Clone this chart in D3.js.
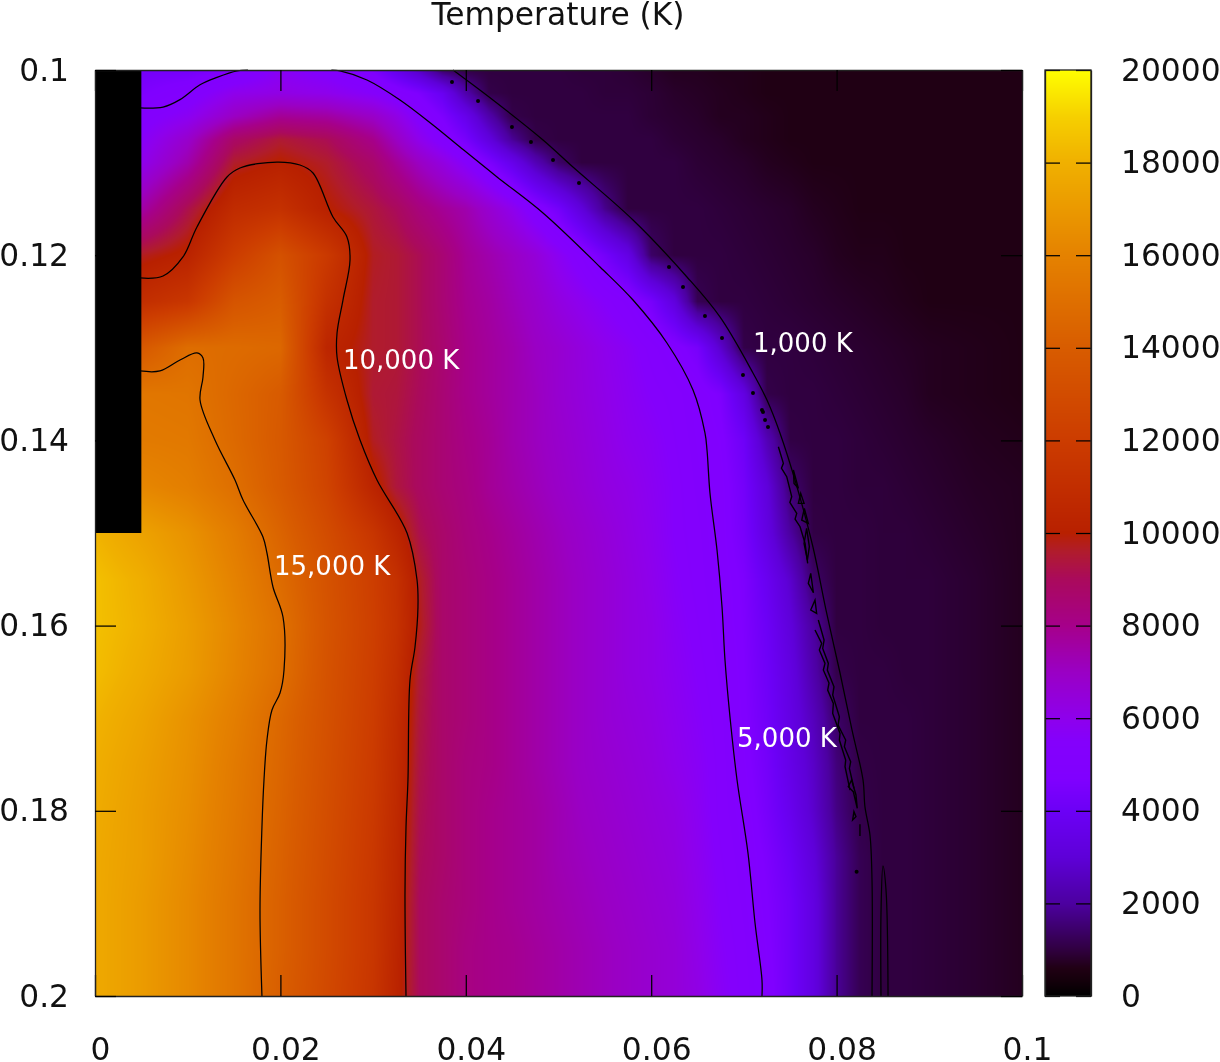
<!DOCTYPE html>
<html>
<head>
<meta charset="utf-8">
<script src="https://cdnjs.cloudflare.com/ajax/libs/d3/7.8.5/d3.min.js"></script>
<style>
  html, body { margin: 0; padding: 0; background: #fff; }
  #vis { position: relative; width: 1220px; height: 1062px; overflow: hidden; filter: blur(0.65px); }
  #vis canvas, #vis svg { position: absolute; left: 0; top: 0; }
  text { font-family: "DejaVu Sans", sans-serif; }
</style>
</head>
<body>
<div id="vis"></div>
<script>
// grid positions of the temperature table
const gridX = [0, .005, .01, .015, .02, .025, .03, .0325, .035, .0375, .04, .0425, .045, .0475, .05, .0525, .055,
  .0575, .06, .0625, .065, .0675, .07, .0725, .075, .0775, .08, .0825, .085, .0875, .09, .095, .1];
const gridY = [.1, .1025, .105, .1075, .11, .115, .12, .125, .13, .135, .14, .145, .15, .155, .16, .165, .17,
  .175, .18, .185, .19, .195, .2];

// temperature in hundreds of K, one row per gridY
const tempRows = [
  [43,43,43,47,57,53,46, 36,26,14,10.5, 10,10,10,10, 9.5,9.5,9,8, 7,7,6.5,6.5,6, 6,6,6,6,6, 6,6,6,6],
  [46,46,51,60,62,60,55, 51,46,38,22, 11,10,10,10, 10,9.5,9.5,9, 8,7.5,7,6.5,6, 6,6,6,6,6, 6,6,6,6],
  [52,52,58,70,78,76,69, 62,53,46,36, 22,11,10,10, 10,10,10,9, 8.5,8,7,7,6.5, 6,6,6,6,6, 6,6,6,6],
  [56,56,68,88,95,91,80, 70,60,52,44, 32,19,11,10, 10,10,10,10, 9,8.5,8,7,6.5, 6,6,6,6,6, 6,6,6,6],
  [60,60,74,96,100.5,96,87, 78,70,63,55, 46,36,24,14, 10,10,10,10, 10,9,8.5,8,7, 6.5,6,6,6,6, 6,6,6,6],
  [75,75,92,108,112,100.5,94, 90,83,78,74, 67,60,51,43, 31,18,10,10, 10,10,9.5,9,8.5, 8,7,6.5,6,6, 6,6,6,6],
  [97,97,102,120,133,118,97, 95,91,85,78, 74,70,65,58, 51.5,43,34,14, 10,10,10,9.5,9, 8.5,8,7,6.5,6.5, 6,6,6,6],
  [110,110,116,135,140,112,96, 95,91,85,79, 76,72,68,63, 59,55,51,44, 32,12,10,10,9.5, 9,8.5,8,7.5,7, 6.5,6,6,6],
  [138,138,149,148,146,104,96, 95,91,86,80, 77,74,70,67, 63.5,60,57,53, 49,44,28,11,10, 10,9.5,9,8.5,8, 7.5,7,6.5,6],
  [154,154,153,146,139,113,95, 94,90,85,80, 77,74,71,67, 64,61,58,55, 53,50,46,33,11, 10,10,9.5,9,8.5, 8,7,6.5,6],
  [156,156,155,147,138,123,97, 93,89,85,81, 78,74,71,68, 65,62,59,57, 54,50.8,48,41,24, 10.5,10,10,9.5,9, 8.5,8,7,6.5],
  [162,162,158,150,139,125,103, 94,89,85,82, 78,75,72,69, 66,63,61,58, 55,51.5,49,43,31, 15,10,10,9.5,9.5, 9,8.5,7.5,7],
  [181,174,167,157,144,130,115, 104,92,87,83, 80,77,74,71, 68,65,62,59, 55,52.5,49.2,44,33, 20,10.5,10,10,9.5, 9.5,9,8,7],
  [185,179,170,160,148,134,121, 112,97,87,84, 81,78,75,72, 69,66,63,60, 56,53,49.7,46,38, 28,14,10,10,9.5, 9.5,9.5,8.5,7],
  [185,180,172,162,151,135,122, 113,98,87,84, 81,78,75,72, 69,66,63,61, 57,54,50.2,46.5,40, 31,20,10,10,9.5, 9.5,9.5,8.5,7],
  [184,178,171,161,150,134,121, 111,95,87,84, 81,78,75,72, 69,66,63,61, 58,55,51.5,47,41, 33,22,11,10,10, 9.5,9.5,8.5,7],
  [181,175,167,158,146,133,120, 109,94,87,84, 81,78,75,72, 69,66,64,62, 59,56,52.5,47.5,42, 34,25,14,10,10, 10,9.5,8.5,7],
  [179,173,166,156,145,132,119, 108,93,87,83, 81,78,75,72, 69,67,65,63, 60,57,53,48.5,43, 35,27,16,10.5,10, 10,9.5,8.5,7],
  [178,172,165,155,144,131,118, 107,92,87,83, 80,78,76,73, 70,68,66,64, 62,58,53,49.9,44, 37,28,17,11,10, 10,9.5,8.5,7],
  [177,172,164,154,143,130,117, 106,91,87,83, 80,78,76,73, 71,69,67,65, 63,59,54,50.7,46, 40,31,19,12,10, 10,9.5,8.5,7],
  [177,171,163,153,142,129,116, 105,90,86,83, 80,78,76,74, 72,70,68,66, 64,60,55,51.5,47, 42,33,19,12,10, 10,9.5,8.5,7],
  [177,171,163,153,142,129,116, 104,90,86,82, 80,79,77,75, 73,71,69,67, 65,61,56,52.5,48, 42,33,19,12,10, 10,9.5,8.5,7],
  [177,171,163,153,141,128,115, 103,90,86,82, 80,79,77,75, 73,71,69,67, 65,62,57,53,49, 42,33,19,12,10, 10,9.5,8.5,7]
];

// the solid block at the top left has no data
const blockX = .005;
const blockY = .15;

// palette of the colour bar
const paletteValues = [0, 300, 600, 1000, 1500, 2000, 3000, 4000, 4700, 5500, 6000, 7000, 8000, 9000, 9600, 10000, 12000, 14000, 16000, 18000, 19000, 20000];
const paletteColors = ['#000000', '#12000a', '#200014', '#300040', '#3e0070', '#4c00a0', '#5e00d8', '#6c00f6', '#8000ff', '#8400fc', '#8e00ec', '#9a00c4', '#a6008a', '#aa0a5c', '#b01c2c', '#b82000', '#cc3c00', '#d85c00', '#e58200', '#f0b000', '#f6d000', '#ffff00'];

const xTicks = [0, .02, .04, .06, .08, .1];
const yTicks = [.1, .12, .14, .16, .18, .2];
const barTicks = [0, 2000, 4000, 6000, 8000, 10000, 12000, 14000, 16000, 18000, 20000];

// contour lines, [x, y] in data units
const contour5000Corner = [[.00485,.1041],[.00734,.1040],[.00917,.1032],[.01133,.1016],[.01316,.1008],[.01532,.1001],[.0165,.1]];
const contour5000 = [[.0255,.1],[.02643,.1001],[.02934,.10108],[.0329,.10324],[.03646,.10594],[.03937,.10832],[.04337,.11155],[.04833,.11544],[.05448,.12127],[.05804,.12484],[.0617,.12948],[.06451,.13456],[.0658,.1392],[.06602,.14104],[.06634,.14568],[.0671,.15184],[.06764,.15799],[.06796,.16371],[.0685,.16987],[.06926,.17667],[.07044,.18456],[.0712,.19212],[.07195,.19827],[.07195,.2]];
const contour10000 = [[.00485,.12246],[.00734,.12225],[.00949,.12019],[.011,.11695],[.01424,.11155],[.01564,.11058],[.01963,.10994],[.02211,.11026],[.02352,.11112],[.02567,.11587],[.02718,.11803],[.02751,.12052],[.02675,.12484],[.02611,.1284],[.02611,.13099],[.02718,.13564],[.02859,.13996],[.03042,.14428],[.03366,.15],[.03474,.15508],[.03484,.15799],[.03452,.16231],[.03398,.16587],[.03376,.17667],[.03355,.18175],[.03344,.18888],[.03355,.2]];
const contour15000 = [[.00485,.1325],[.00701,.1325],[.00917,.13132],[.011,.13056],[.01165,.1311],[.01165,.13315],[.01133,.13564],[.01294,.13996],[.0151,.14428],[.01597,.14644],[.01812,.15043],[.01855,.15216],[.0192,.15583],[.02028,.15907],[.02039,.16479],[.01996,.16728],[.01909,.16911],[.01855,.17235],[.01823,.17667],[.01801,.18175],[.0178,.19071],[.01801,.2]];
const contour1000 = [[.03862,.1],[.04293,.10324],[.04833,.10756],[.05156,.11048],[.05804,.1162],[.06386,.12235],[.06742,.12667],[.07098,.13272],[.07249,.13564],[.07389,.1392],[.07573,.14503],[.07745,.15151],[.07886,.15832],[.08037,.16512],[.08166,.17127],[.08285,.17667],[.08306,.17958],[.0836,.18261],[.08382,.18747],[.08382,.2]];
const contourSpike = [[.08479,.2],[.08479,.19104],[.085,.18596],[.08533,.18855],[.08555,.2]];
const ragged1 = [[.07372,.14068],[.07426,.14248],[.07405,.14300],[.07462,.14392],[.07516,.14608],[.07496,.14670],[.0757,.14788],[.07552,.14850],[.07606,.14932],[.0766,.15112],[.07688,.15328]];
const ragged2 = [[.07767,.16048],[.07839,.16192],[.07814,.16264],[.07875,.16408],[.07857,.1648],[.07918,.1662],[.07904,.16696],[.07965,.1684],[.07958,.16948],[.08037,.17164],[.0803,.17236],[.08098,.17452],[.08091,.17524],[.08145,.17776]];
const ragged3 = [[.07803,.1594],[.07865,.16156],[.0785,.16246],[.07911,.16408],[.079,.1648],[.07972,.1666],[.07958,.1675],[.0803,.16984],[.08016,.17074],[.08098,.17236],[.08084,.17308],[.08152,.1747],[.08138,.17542],[.08188,.17758]];
const ragged4 = [[.08252,.18146],[.08252,.18272]];
const loops = [
  [[.07534,.1432],[.07588,.14518],[.07541,.14464]],
  [[.07613,.14572],[.07649,.1468],[.07588,.1468]],
  [[.07652,.14734],[.07695,.14896],[.07624,.1486]],
  [[.07677,.1495],[.07706,.15148],[.07685,.15292],[.07649,.15112]],
  [[.07721,.15436],[.0775,.15645],[.07695,.15544]],
  [[.07767,.15724],[.07785,.15868],[.07721,.15832]],
  [[.08162,.17667],[.08126,.17739],[.0818,.17793],[.08223,.17973],[.08209,.17829]],
  [[.08187,.18009],[.08209,.18063],[.08173,.18099]]
];
const specks = [[.03851,.1013],[.04132,.10335],[.04498,.10616],[.04703,.10778],[.04941,.10972],[.05221,.1122],[.06192,.12127],[.06343,.12343],[.0658,.12657],[.06764,.12894],[.0699,.13294],[.07098,.13488],[.07206,.13693],[.0726,.13855],[.07195,.13672],[.07228,.1378],[.08216,.18657]];

const contourLabels = [
  { text: '10,000 K', x: .02675, y: .13229 },
  { text: '15,000 K', x: .01931, y: .15454 },
  { text: '5,000 K', x: .06926, y: .17311 },
  { text: '1,000 K', x: .07098, y: .13045 }
];

const width = 1220;
const height = 1062;
const plot = { left: 95, right: 1022, top: 70, bottom: 996 };
const bar = { left: 1045, right: 1091 };

const x = d3.scaleLinear().domain([0, .1]).range([plot.left, plot.right]);
const y = d3.scaleLinear().domain([.1, .2]).range([plot.top, plot.bottom]);
const barY = d3.scaleLinear().domain([0, 20000]).range([plot.bottom, plot.top]);
const color = d3.scaleLinear().domain(paletteValues).range(paletteColors).clamp(true);

// maps data position to a fractional index in the table
const colIndex = d3.scaleLinear().domain(gridX).range(d3.range(gridX.length)).clamp(true);
const rowIndex = d3.scaleLinear().domain(gridY).range(d3.range(gridY.length)).clamp(true);

function tempAt(dx, dy) {
  const cf = colIndex(dx);
  const rf = rowIndex(dy);
  const c0 = Math.min(Math.floor(cf), gridX.length - 2);
  const r0 = Math.min(Math.floor(rf), gridY.length - 2);
  const a = cf - c0;
  const b = rf - r0;
  const top = tempRows[r0][c0] * (1 - a) + tempRows[r0][c0 + 1] * a;
  const bot = tempRows[r0 + 1][c0] * (1 - a) + tempRows[r0 + 1][c0 + 1] * a;
  return (top * (1 - b) + bot * b) * 100;
}

const vis = d3.select('#vis');
const canvas = vis.append('canvas').attr('width', width).attr('height', height).node();
const ctx = canvas.getContext('2d');

// heat map, smoothed between table cells
for (let py = plot.top; py < plot.bottom; py++) {
  for (let px = plot.left; px < plot.right; px++) {
    ctx.fillStyle = color(tempAt(x.invert(px + .5), y.invert(py + .5)));
    ctx.fillRect(px, py, 1, 1);
  }
}

// colour bar
for (let py = plot.top; py < plot.bottom; py++) {
  ctx.fillStyle = color(barY.invert(py + .5));
  ctx.fillRect(bar.left, py, bar.right - bar.left, 1);
}

const svg = vis.append('svg').attr('width', width).attr('height', height);

svg.append('rect')
  .attr('x', x(0))
  .attr('y', y(.1))
  .attr('width', x(blockX) - x(0))
  .attr('height', y(blockY) - y(.1))
  .attr('fill', '#000');

const line = d3.line().x(d => x(d[0])).y(d => y(d[1]));
const smoothLine = d3.line().x(d => x(d[0])).y(d => y(d[1])).curve(d3.curveCatmullRom.alpha(.5));

svg.append('g').selectAll('path')
  .data([contour5000Corner, contour5000, contour10000, contour15000, contour1000, contourSpike])
  .join('path')
  .attr('d', smoothLine)
  .attr('fill', 'none')
  .attr('stroke', '#000')
  .attr('stroke-width', 1.25);

svg.append('g').selectAll('path')
  .data([ragged1, ragged2, ragged3, ragged4])
  .join('path')
  .attr('d', line)
  .attr('fill', 'none')
  .attr('stroke', '#000')
  .attr('stroke-width', 1.4);

svg.append('g').selectAll('path')
  .data(loops)
  .join('path')
  .attr('d', d => line(d) + 'Z')
  .attr('fill', 'none')
  .attr('stroke', '#000')
  .attr('stroke-width', 1.4);

svg.append('g').selectAll('circle')
  .data(specks)
  .join('circle')
  .attr('cx', d => x(d[0]))
  .attr('cy', d => y(d[1]))
  .attr('r', 2)
  .attr('fill', '#000');

svg.append('g').selectAll('text')
  .data(contourLabels)
  .join('text')
  .attr('x', d => x(d.x))
  .attr('y', d => y(d.y))
  .attr('fill', '#fff')
  .attr('font-size', 26)
  .text(d => d.text);

function styleAxis(g, size) {
  g.selectAll('.domain').attr('stroke', '#222').attr('stroke-width', 1.3);
  g.selectAll('.tick line').attr('stroke', '#000').attr('stroke-width', 1.25);
  g.selectAll('.tick text').attr('fill', '#111').attr('font-size', size).attr('font-family', '"DejaVu Sans", sans-serif');
}

const fmt = d => String(d);

svg.append('g')
  .attr('transform', `translate(0,${plot.bottom})`)
  .call(d3.axisBottom(x).tickValues(xTicks).tickFormat(fmt).tickSize(-21).tickSizeOuter(0).tickPadding(42))
  .call(styleAxis, 31.3)
  .call(g => g.selectAll('.tick text').attr('dx', 5));

svg.append('g')
  .attr('transform', `translate(0,${plot.top})`)
  .call(d3.axisTop(x).tickValues(xTicks).tickFormat('').tickSize(-21).tickSizeOuter(0))
  .call(styleAxis, 31.3);

svg.append('g')
  .attr('transform', `translate(${plot.left},0)`)
  .call(d3.axisLeft(y).tickValues(yTicks).tickFormat(fmt).tickSize(-21).tickSizeOuter(0).tickPadding(26))
  .call(styleAxis, 31.3);

svg.append('g')
  .attr('transform', `translate(${plot.right},0)`)
  .call(d3.axisRight(y).tickValues(yTicks).tickFormat('').tickSize(-21).tickSizeOuter(0))
  .call(styleAxis, 31.3);

// colour bar axes
svg.append('g')
  .attr('transform', `translate(${bar.right},0)`)
  .call(d3.axisRight(barY).tickValues(barTicks).tickFormat(fmt).tickSize(-15).tickSizeOuter(0).tickPadding(30))
  .call(styleAxis, 31.3);

svg.append('g')
  .attr('transform', `translate(${bar.left},0)`)
  .call(d3.axisLeft(barY).tickValues(barTicks).tickFormat('').tickSize(-15).tickSizeOuter(0))
  .call(styleAxis, 31.3);

svg.append('rect')
  .attr('x', bar.left)
  .attr('y', plot.top)
  .attr('width', bar.right - bar.left)
  .attr('height', plot.bottom - plot.top)
  .attr('fill', 'none')
  .attr('stroke', '#222')
  .attr('stroke-width', 1.3);

svg.append('text')
  .attr('x', 558)
  .attr('y', 25)
  .attr('text-anchor', 'middle')
  .attr('fill', '#111')
  .attr('font-size', 31.3)
  .text('Temperature (K)');
</script>
</body>
</html>
